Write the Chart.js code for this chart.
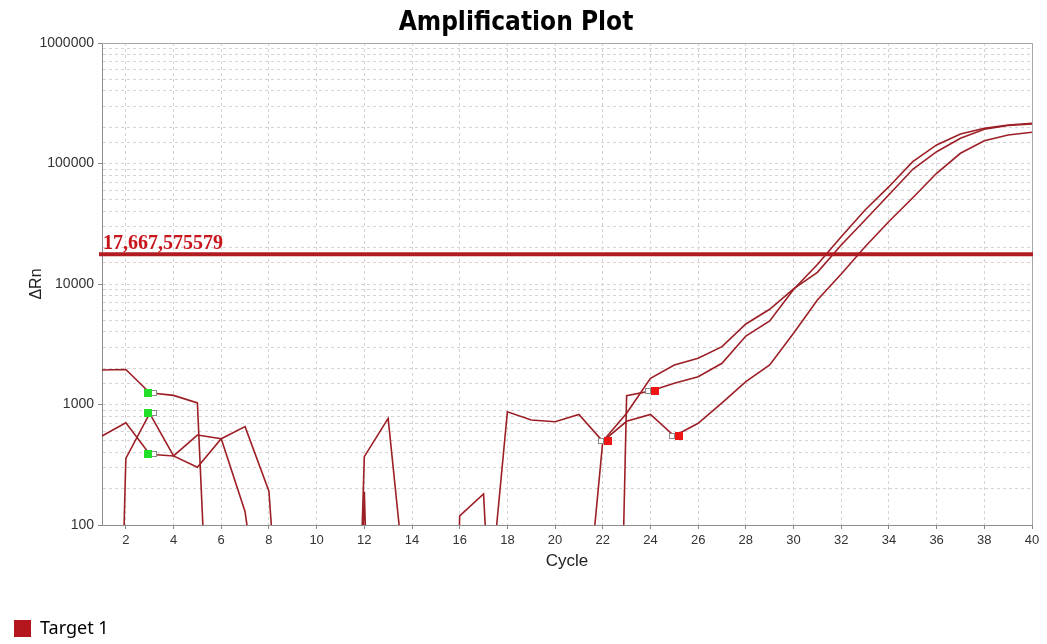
<!DOCTYPE html>
<html>
<head>
<meta charset="utf-8">
<title>Amplification Plot</title>
<script src="https://cdn.jsdelivr.net/npm/chart.js@4.4.1/dist/chart.umd.min.js"></script>
<style>
  html, body { margin: 0; padding: 0; background: #fff; }
  #wrap { width: 1047px; height: 644px; position: relative; }
</style>
</head>
<body>
<div id="wrap"><canvas id="ampChart"></canvas></div>
<script>
// x axis: PCR cycles
const cycles = [1, 2, 3, 4, 5, 6, 7, 8, 9, 10, 11, 12, 13, 14, 15, 16, 17, 18, 19, 20,
                21, 22, 23, 24, 25, 26, 27, 28, 29, 30, 31, 32, 33, 34, 35, 36, 37, 38, 39, 40];
const xTicks = [2, 4, 6, 8, 10, 12, 14, 16, 18, 20, 22, 24, 26, 28, 30, 32, 34, 36, 38, 40];
const yTicks = [100, 1000, 10000, 100000, 1000000];

// delta Rn per well; very small values just send the trace off the bottom of the plot
const well1 = [1932, 1950, 1250, 1190, 1030, 0.04, 0.02, 0.01, 0.01, 0.005,
               0.0001, 369, 768, 9, 0.5, 0.3, 7, 871, 743, 720,
               828, 495, 725, 828, 548, 698, 1030, 1546, 2128, 3900,
               7370, 12100, 20400, 33000, 52000, 82900, 121600, 154600, 172500, 181500];
const well2 = [548, 706, 386, 374, 558, 520, 129, 5, 0.8, 0.3,
               0.00004, 190, 0.00004, 0.2, 0.4, 0.1, 0.3, 0.2, 0.5, 0.3,
               4, 495, 845, 1648, 2128, 2416, 3020, 4656, 6166, 9100,
               12500, 21100, 34000, 55000, 89500, 125300, 161800, 192200, 207000, 212800];
const well3 = [0.00001, 357, 845, 374, 301, 520, 655, 191, 0.3, 0.1,
               0.05, 0.02, 0.05, 0.02, 0.00001, 119, 181, 0.036, 0.02, 0.01,
               0.005, 0.0000015, 1184, 1294, 1500, 1702, 2198, 3700, 4930, 9000,
               14500, 24700, 41100, 64200, 103500, 142500, 175800, 195800, 208700, 215500];

const threshold = 17667.575579;
const thresholdLabel = '17,667,575579';

// baseline start / end cycle for each well
const baselineStart = [3, 3, 3];
const baselineEnd = [25, 22, 24];

const wells = [well1, well2, well3];
const traceColor = '#9c1f26';
const targetColor = '#b5161e';

Chart.defaults.font.family = "'Liberation Sans', Arial, sans-serif";
Chart.defaults.color = '#333';

function isMajor(v) {
  return yTicks.some(t => Math.abs(t - v) / t < 1e-9);
}

// threshold line, plot frame and the baseline markers
const plotExtras = {
  id: 'plotExtras',
  afterDatasetsDraw(chart) {
    const { ctx, chartArea: a, scales: { x, y } } = chart;
    ctx.save();

    ctx.strokeStyle = '#a8a8a8';
    ctx.lineWidth = 1;
    ctx.beginPath();
    ctx.moveTo(a.left, a.top + 0.5);
    ctx.lineTo(a.right + 0.5, a.top + 0.5);
    ctx.lineTo(a.right + 0.5, a.bottom);
    ctx.stroke();

    const ty = y.getPixelForValue(threshold);
    ctx.strokeStyle = '#b01c22';
    ctx.lineWidth = 4;
    ctx.beginPath();
    ctx.moveTo(a.left - 3, ty);
    ctx.lineTo(a.right + 1, ty);
    ctx.stroke();

    ctx.fillStyle = '#c8141b';
    ctx.font = 'bold 20px "Liberation Serif", "Times New Roman", serif';
    ctx.textBaseline = 'alphabetic';
    ctx.fillText(thresholdLabel, a.left + 1, ty - 5);

    const box = (bx, by, fill) => {
      ctx.fillStyle = fill;
      ctx.fillRect(bx, by - 4, 8, 8);
    };
    const hollow = (bx, by) => {
      ctx.fillStyle = '#fff';
      ctx.fillRect(bx, by - 3, 6, 6);
      ctx.strokeStyle = '#8a8a8a';
      ctx.lineWidth = 1;
      ctx.strokeRect(bx + 0.5, by - 2.5, 5, 5);
    };

    wells.forEach((w, i) => {
      const s = baselineStart[i];
      const sx = Math.round(x.getPixelForValue(s));
      const sy = Math.round(y.getPixelForValue(w[cycles.indexOf(s)]));
      hollow(sx + 1, sy);
      box(sx - 6, sy, '#22e02a');

      const e = baselineEnd[i];
      const ex = Math.round(x.getPixelForValue(e));
      const ey = Math.round(y.getPixelForValue(w[cycles.indexOf(e)]));
      hollow(ex - 5, ey);
      box(ex + 1, ey, '#ee1515');
    });

    ctx.restore();
  }
};

const ctx = document.getElementById('ampChart').getContext('2d');
new Chart(ctx, {
  type: 'line',
  data: {
    datasets: wells.map((w, i) => ({
      label: 'Well ' + (i + 1),
      data: cycles.map((c, j) => ({ x: c, y: w[j] })),
      borderColor: traceColor,
      backgroundColor: traceColor,
      borderWidth: 1.6,
      pointRadius: 0,
      tension: 0,
      fill: false
    }))
  },
  options: {
    responsive: true,
    maintainAspectRatio: false,
    animation: false,
    events: [],
    layout: { padding: { left: 0, right: 15, top: 0, bottom: 0 } },
    scales: {
      x: {
        type: 'linear',
        min: 1,
        max: 40,
        afterBuildTicks: (s) => { s.ticks = xTicks.map(v => ({ value: v })); },
        afterFit: (s) => { s.height = 80.5; },
        ticks: { font: { size: 13 }, color: '#333', padding: 4, maxRotation: 0, autoSkip: false },
        grid: { color: '#d4d4d4', lineWidth: 1, drawTicks: true, tickLength: 4, tickColor: '#888' },
        border: { display: true, color: '#8c8c8c', width: 1, dash: [3, 3] },
        title: {
          display: true,
          text: 'Cycle',
          font: { size: 17 },
          color: '#222',
          padding: { top: 4, bottom: 34 }
        }
      },
      y: {
        type: 'logarithmic',
        min: 100,
        max: 1000000,
        afterFit: (s) => { s.width = 102; },
        ticks: {
          autoSkip: false,
          font: { size: 14 },
          color: '#333',
          padding: 4,
          callback: (v) => isMajor(v) ? String(v) : ''
        },
        grid: {
          color: '#d4d4d4',
          lineWidth: 1,
          drawTicks: true,
          tickLength: 4,
          tickColor: (c) => (c.tick && isMajor(c.tick.value)) ? '#888' : 'rgba(0,0,0,0)'
        },
        border: { display: true, color: '#8c8c8c', width: 1, dash: [3, 3] },
        title: {
          display: true,
          text: 'ΔRn',
          font: { size: 16 },
          color: '#222',
          padding: { top: 27, bottom: 0 }
        }
      }
    },
    plugins: {
      title: {
        display: true,
        text: 'Amplification Plot',
        color: '#000',
        font: { family: "'DejaVu Sans Condensed', 'DejaVu Sans', sans-serif", size: 26, weight: 'bold' },
        padding: { top: 8, bottom: 3.8 }
      },
      legend: {
        position: 'bottom',
        align: 'start',
        maxHeight: 38.5,
        labels: {
          boxWidth: 17,
          boxHeight: 17,
          padding: 14,
          color: '#555',
          font: { family: "'Noto Sans', sans-serif", size: 18 },
          generateLabels: () => [{
            text: 'Target 1',
            fillStyle: targetColor,
            strokeStyle: targetColor,
            lineWidth: 0,
            hidden: false,
            datasetIndex: 0
          }]
        }
      },
      tooltip: { enabled: false }
    }
  },
  plugins: [plotExtras]
});
</script>
</body>
</html>
